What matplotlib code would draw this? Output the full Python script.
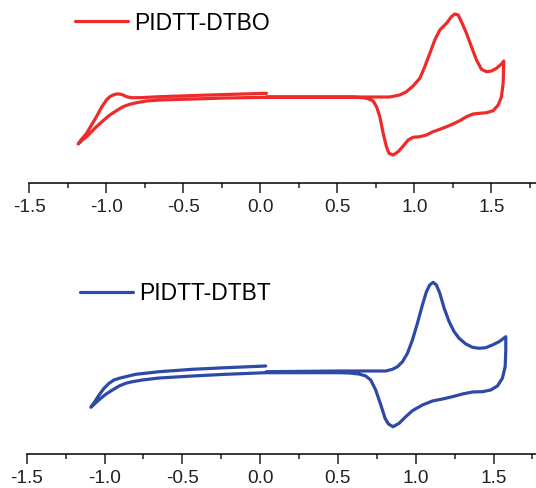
import numpy as np
import matplotlib
matplotlib.use('Agg')
import matplotlib.pyplot as plt
from matplotlib.ticker import MultipleLocator

plt.rcParams['font.family'] = ['Liberation Sans', 'DejaVu Sans']

# PIDTT-DTBO (potential in V, current in arbitrary units)
# forward scan 0 -> +1.58, back to -1.18, then up to 0
dtbo_v = [0.04, 0.52, 0.84, 0.906, 0.949, 0.992, 1.036, 1.068, 1.101, 1.133, 1.166, 1.209, 1.241,
          1.263, 1.285, 1.306, 1.339, 1.371, 1.404, 1.436, 1.469, 1.501, 1.534, 1.566, 1.581,
          1.580, 1.577, 1.566, 1.545, 1.512, 1.469, 1.425, 1.382, 1.339, 1.295, 1.252, 1.209,
          1.166, 1.122, 1.079, 1.036, 0.992, 0.960, 0.928, 0.895, 0.863, 0.836, 0.819, 0.798,
          0.776, 0.755, 0.733, 0.700, 0.668, 0.603, 0.516,
          0.040, -0.220, -0.436, -0.653, -0.740, -0.804, -0.848, -0.891, -0.934, -0.977, -1.021,
          -1.064, -1.096, -1.128, -1.161, -1.183,
          -1.161, -1.128, -1.096, -1.064, -1.031, -0.999, -0.977, -0.956, -0.934, -0.913, -0.891,
          -0.869, -0.837, -0.783, -0.653, -0.328, 0.040]
dtbo_i = [0.0, 0.0, 0.0, 0.2, 0.53, 1.1, 1.87, 3.03, 4.37, 5.7, 6.7, 7.37, 8.03,
          8.3, 8.2, 7.53, 6.37, 5.03, 3.7, 2.77, 2.53, 2.6, 2.87, 3.3, 3.6,
          3.03, 1.37, 0.03, -0.8, -1.37, -1.57, -1.63, -1.7, -1.97, -2.37, -2.7, -2.97,
          -3.23, -3.47, -3.8, -3.97, -4.03, -4.3, -4.9, -5.47, -5.8, -5.63, -4.97, -3.63,
          -1.97, -0.97, -0.4, -0.17, -0.07, -0.03, -0.03,
          -0.03, -0.1, -0.2, -0.3, -0.4, -0.57, -0.73, -0.97, -1.37, -1.8, -2.37,
          -2.97, -3.47, -3.97, -4.37, -4.7,
          -4.23, -3.63, -2.8, -1.97, -1.03, -0.3, 0.03, 0.2, 0.3, 0.3, 0.2,
          0.03, -0.07, -0.07, 0.03, 0.2, 0.37]

# PIDTT-DTBT
dtbt_v = [0.04, 0.508, 0.808, 0.850, 0.883, 0.915, 0.947, 0.979, 1.011, 1.043, 1.069, 1.090,
          1.112, 1.133, 1.155, 1.183, 1.215, 1.247, 1.279, 1.322, 1.365, 1.407, 1.450, 1.493,
          1.536, 1.579,
          1.579, 1.575, 1.557, 1.525, 1.482, 1.429, 1.365, 1.300, 1.236, 1.172, 1.108, 1.043,
          0.979, 0.936, 0.893, 0.855, 0.825, 0.803, 0.776, 0.743, 0.711, 0.679, 0.636, 0.572, 0.508,
          0.036, -0.221, -0.435, -0.649, -0.757, -0.821, -0.864, -0.906, -0.949, -0.992, -1.024,
          -1.056, -1.088,
          -1.067, -1.035, -1.003, -0.971, -0.939, -0.906, -0.864, -0.799, -0.649, -0.435, -0.221, 0.036]
dtbt_i = [0.03, 0.1, 0.1, 0.27, 0.53, 1.03, 1.87, 3.2, 4.87, 6.7, 8.03, 8.7,
          8.97, 8.7, 7.87, 6.37, 5.03, 4.03, 3.37, 2.8, 2.47, 2.37, 2.43, 2.7,
          3.03, 3.53,
          2.2, 0.53, -0.63, -1.4, -1.8, -1.97, -2.0, -2.2, -2.47, -2.7, -2.9, -3.3,
          -3.87, -4.47, -5.13, -5.47, -5.2, -4.63, -3.3, -1.8, -0.8, -0.4, -0.2, -0.1, -0.07,
          -0.07, -0.23, -0.4, -0.6, -0.8, -0.97, -1.13, -1.4, -1.8, -2.23, -2.63,
          -3.07, -3.53,
          -3.07, -2.3, -1.63, -1.13, -0.8, -0.63, -0.47, -0.23, 0.03, 0.27, 0.43, 0.6]

fig = plt.figure(figsize=(5.36, 4.88), dpi=100)
W, H = 536.0, 488.0

panels = [
    # v, i, colour, label, spine px, top px, px of -1.5, px per volt, baseline px, legend x, legend y
    (dtbo_v, dtbo_i, '#ee2b2b', 'PIDTT-DTBO', 183, 0, 29.3, 154.0, 97, 75, 23),
    (dtbt_v, dtbt_i, '#2d4ba6', 'PIDTT-DTBT', 454, 240, 26.7, 155.6, 372, 80, 294),
]

for v, i, color, label, y_sp, y_top, x0, ppv, base, lx, ly in panels:
    ax = fig.add_axes([x0 / W, 1 - y_sp / H, 1 - x0 / W, (y_sp - y_top) / H])
    ax.plot(v, i, color=color, lw=2.3, label=label, solid_capstyle='round', solid_joinstyle='round')
    ax.set_xlim(-1.5, -1.5 + (W - x0) / ppv)
    ax.set_ylim(-(y_sp - base) / 10.0, (base - y_top) / 10.0)
    for s in ['left', 'right', 'top']:
        ax.spines[s].set_visible(False)
    ax.spines['bottom'].set_linewidth(1.1)
    ax.set_yticks([])
    ax.xaxis.set_minor_locator(MultipleLocator(0.25))
    ax.set_xticks([-1.5, -1.0, -0.5, 0.0, 0.5, 1.0, 1.5])
    ax.set_xticklabels(['-1.5', '-1.0', '-0.5', '0.0', '0.5', '1.0', '1.5'])
    ax.tick_params(axis='x', which='major', length=7, width=1.1, pad=4.5, labelsize=13.7, colors='#222222')
    ax.tick_params(axis='x', which='minor', length=3.6, width=1.1, colors='#222222')
    ax.patch.set_alpha(0)
    ax.legend(loc='center left', bbox_to_anchor=(lx / W, 1 - ly / H), bbox_transform=fig.transFigure,
              frameon=False, fontsize=16.5, handlelength=2.3, handletextpad=0.3,
              borderpad=0, borderaxespad=0)

fig.savefig('out.png', dpi=100)
